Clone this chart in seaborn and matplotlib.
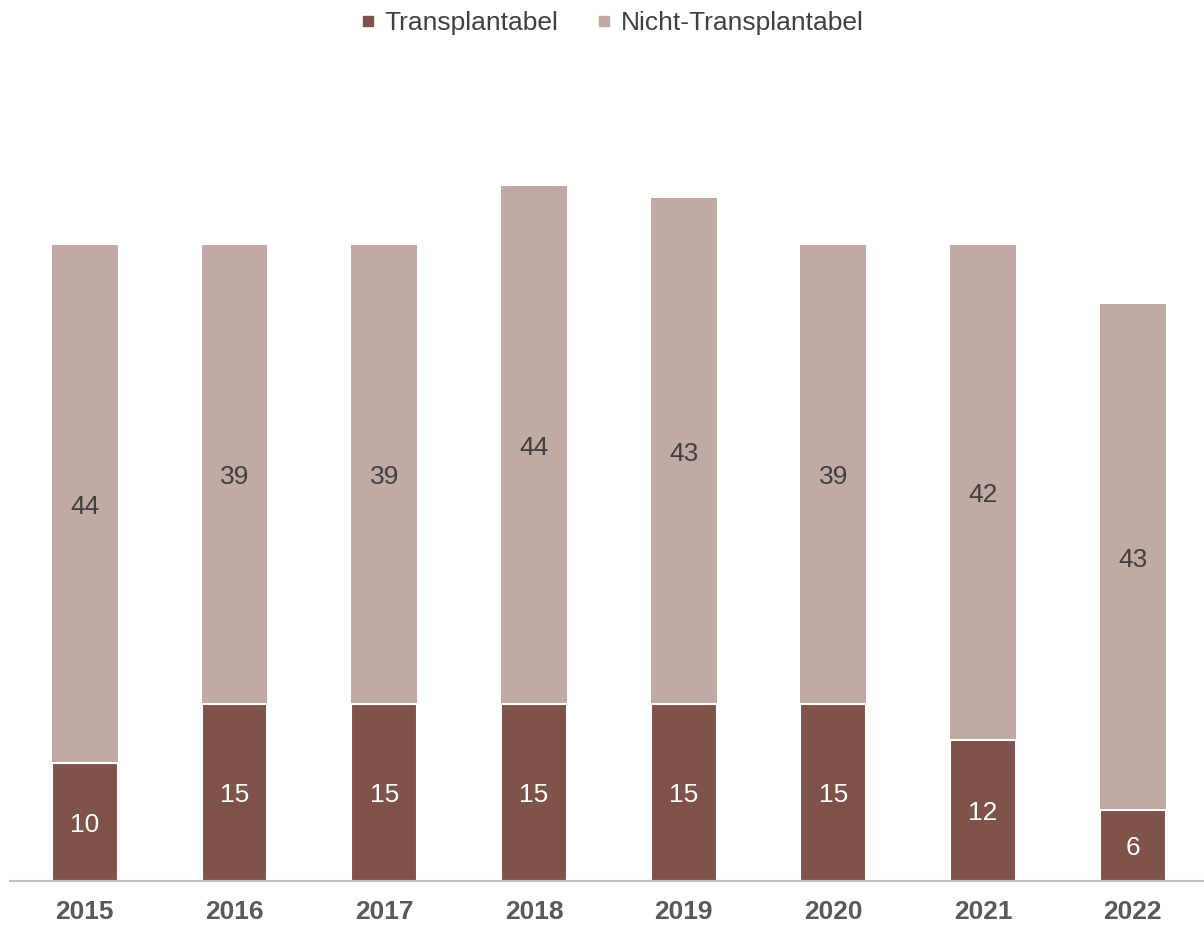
import pandas as pd
import matplotlib
matplotlib.use("Agg")
import matplotlib.pyplot as plt
from matplotlib.lines import Line2D
import seaborn as sns

# Daten
jahre = ["2015", "2016", "2017", "2018", "2019", "2020", "2021", "2022"]
transplantabel = [10, 15, 15, 15, 15, 15, 12, 6]
nicht_transplantabel = [44, 39, 39, 44, 43, 39, 42, 43]

farbe_dunkel = "#7F524A"
farbe_hell = "#C1A9A4"

df = pd.DataFrame({
    "Jahr": jahre,
    "Transplantabel": transplantabel,
    "Nicht-Transplantabel": nicht_transplantabel,
})
df["Gesamt"] = df["Transplantabel"] + df["Nicht-Transplantabel"]

sns.set_theme(style="white")
plt.rcParams["font.family"] = ["Liberation Sans", "DejaVu Sans"]

fig = plt.figure(figsize=(12.04, 9.25), dpi=100)
ax = fig.add_axes([10 / 1204, 44 / 925, 1 - 10 / 1204, 821 / 925])

# Gesamtbalken (hell) und darüber der transplantable Anteil (dunkel)
sns.barplot(data=df, x="Jahr", y="Gesamt", color=farbe_hell, width=0.44,
            saturation=1, edgecolor="none", ax=ax)
sns.barplot(data=df, x="Jahr", y="Transplantabel", color=farbe_dunkel, width=0.44,
            saturation=1, edgecolor="white", linewidth=1.5, ax=ax)

for i, (t, n) in enumerate(zip(transplantabel, nicht_transplantabel)):
    ax.text(i, t / 2, str(t), ha="center", va="center_baseline", color="white", fontsize=19)
    ax.text(i, t + n / 2, str(n), ha="center", va="center_baseline", color="#404040", fontsize=19)

ax.set_xlim(-0.5, 7.476)
ax.set_ylim(0, 69.7)
ax.set_xlabel("")
ax.set_ylabel("")
ax.set_yticks([])
ax.tick_params(axis="x", length=0, pad=14, labelsize=19, labelcolor="#595959")
for lab in ax.get_xticklabels():
    lab.set_fontweight("bold")

for s in ["top", "right", "left"]:
    ax.spines[s].set_visible(False)
ax.spines["bottom"].set_color("#BFBFBF")
ax.spines["bottom"].set_linewidth(1.5)

handles = [
    Line2D([], [], marker="s", linestyle="none", color=farbe_dunkel, markersize=7),
    Line2D([], [], marker="s", linestyle="none", color=farbe_hell, markersize=7),
]
fig.legend(handles, ["Transplantabel", "Nicht-Transplantabel"], loc="center",
           bbox_to_anchor=(0.5075, 1 - 23 / 925), ncol=2, frameon=False,
           fontsize=19, handlelength=0.7, handletextpad=0.3, columnspacing=1.35,
           labelcolor="#404040")

fig.savefig("out.png", dpi=100)
